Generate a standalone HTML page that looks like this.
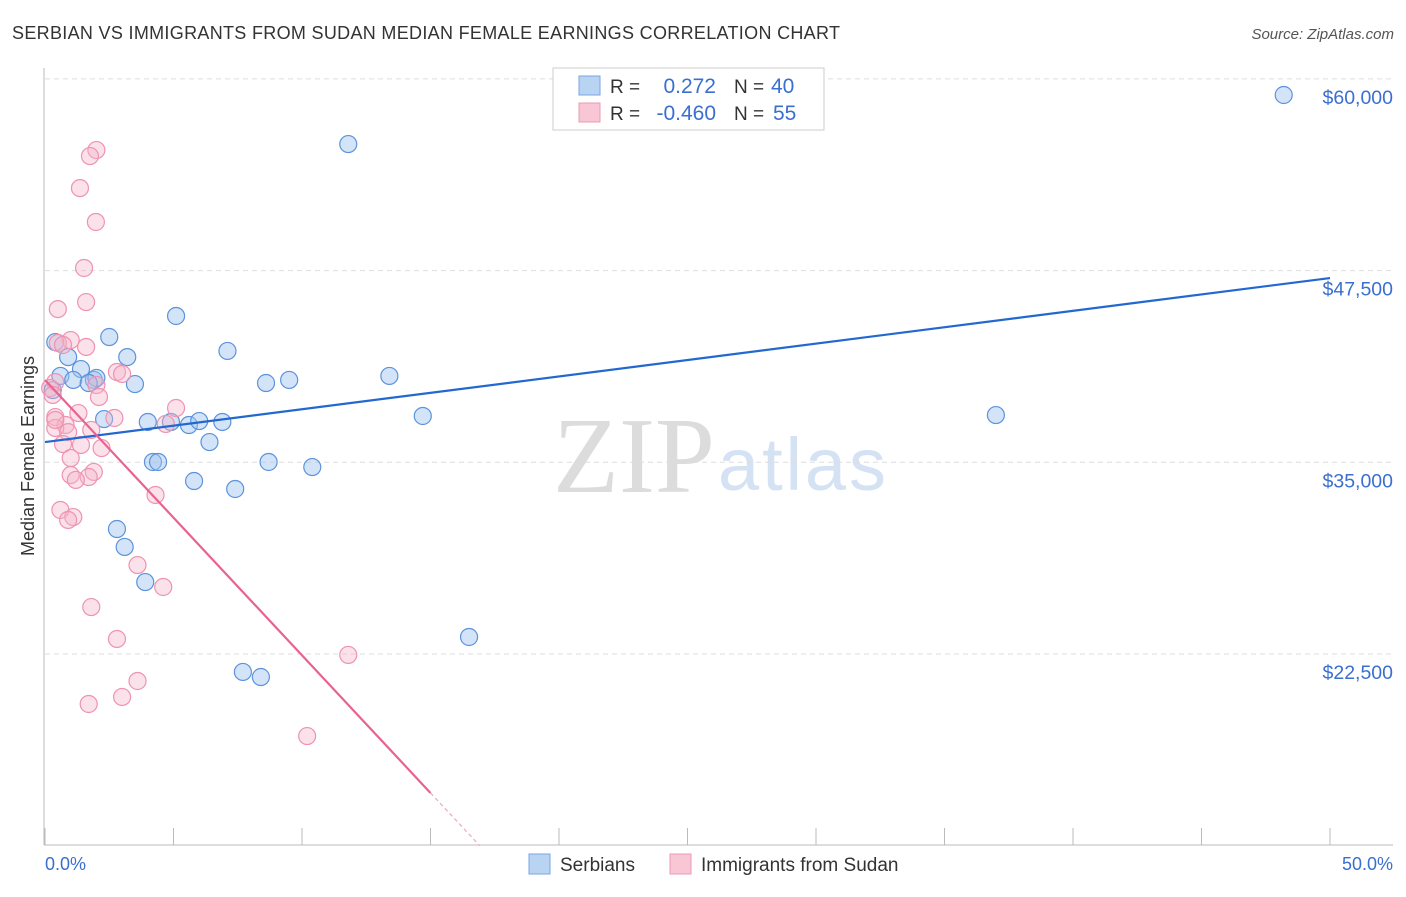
<!DOCTYPE html>
<html><head><meta charset="utf-8"><style>
body{margin:0;background:#fff;font-family:"Liberation Sans",sans-serif}
</style></head><body>
<svg id="chart" width="1406" height="892" xmlns="http://www.w3.org/2000/svg">
<text x="12" y="39" font-size="18" fill="#333" textLength="828">SERBIAN VS IMMIGRANTS FROM SUDAN MEDIAN FEMALE EARNINGS CORRELATION CHART</text>
<text x="1394" y="39" font-size="15" fill="#555" font-style="italic" text-anchor="end">Source: ZipAtlas.com</text>
<text x="553" y="492" font-size="108" fill="#dcdcdc" font-family="Liberation Serif,serif" textLength="162">ZIP</text>
<text x="718" y="490" font-size="74" fill="#d4e2f4" textLength="168">atlas</text>
<g id="grid"></g><g id="axes"></g><g id="pts"></g><g id="lines"></g>
<text transform="translate(34,456) rotate(-90)" font-size="18" fill="#333" text-anchor="middle">Median Female Earnings</text>
<text x="45" y="870" font-size="18" fill="#3a6fd0">0.0%</text>
<text x="1393" y="870" font-size="18" fill="#3a6fd0" text-anchor="end">50.0%</text>
<g>
<rect x="553" y="68" width="271" height="62" fill="#fff" stroke="#ccc"/>
<rect x="579" y="76" width="21" height="19" fill="#b9d3f3" stroke="#7aa6e0"/>
<rect x="579" y="103" width="21" height="19" fill="#f9c6d5" stroke="#eb9ab4"/>
<text x="610" y="93" font-size="19" fill="#333">R =</text><text x="716" y="93" font-size="21" fill="#3a6fd0" text-anchor="end">0.272</text>
<text x="734" y="93" font-size="19" fill="#333">N =</text><text x="771" y="93" font-size="21" fill="#3a6fd0">40</text>
<text x="610" y="120" font-size="19" fill="#333">R =</text><text x="716" y="120" font-size="21" fill="#3a6fd0" text-anchor="end">-0.460</text>
<text x="734" y="120" font-size="19" fill="#333">N =</text><text x="773" y="120" font-size="21" fill="#3a6fd0">55</text>
</g>
<g>
<rect x="529" y="854" width="21" height="20" fill="#b9d3f3" stroke="#7aa6e0"/>
<text x="560" y="871" font-size="19" fill="#333">Serbians</text>
<rect x="670" y="854" width="21" height="20" fill="#f9c6d5" stroke="#eb9ab4"/>
<text x="701" y="871" font-size="19" fill="#333">Immigrants from Sudan</text>
</g>
</svg>
<script>
const yTicks=[22500,35000,47500,60000];
const yTickLabels=["$22,500","$35,000","$47,500","$60,000"];
const xTicks=[0,5,10,15,20,25,30,35,40,45,50];
const serbX=[48.2,11.8,5.1,2.5,7.1,0.4,0.9,3.2,0.3,0.6,1.4,1.9,2.0,1.1,3.5,8.6,9.5,13.4,2.3,4.0,4.9,5.6,6.0,6.9,6.4,14.7,37.0,4.2,4.4,8.7,10.4,5.8,7.4,2.8,3.1,3.9,16.5,7.7,8.4,1.7];
const serbY=[58950,55750,44540,43170,42260,42840,41860,41860,39710,40630,41080,40370,40500,40370,40100,40170,40370,40630,37820,37630,37630,37430,37690,37630,36320,38020,38080,35020,35020,35020,34690,33780,33260,30650,29480,27190,23610,21330,21000,40170];
const sudX=[2.0,1.75,1.36,1.98,1.52,1.6,0.5,1.0,0.5,0.7,1.6,2.8,3.0,2.0,0.4,0.2,0.3,2.1,1.3,0.4,2.7,0.8,0.4,0.9,1.8,5.1,4.7,0.7,1.4,2.2,1.0,1.9,1.0,1.7,1.2,4.3,0.6,1.1,0.9,3.6,4.6,1.8,2.8,3.6,3.0,1.7,11.8,10.2,0.4];
const sudY=[55360,54970,52880,50670,47670,45450,44990,42970,42780,42650,42520,40890,40760,40040,40230,39840,39390,39260,38210,37950,37890,37430,37240,36970,37110,38540,37500,36190,36130,35930,35280,34370,34170,34040,33850,32870,31890,31430,31240,28300,26870,25560,23480,20740,19700,19240,22440,17150,37760];
const serbTrend=[36320,47015];
const sudTrend=[40365,-1795];
const NS="http://www.w3.org/2000/svg";
const xs=v=>45+v*25.7, ys=v=>654-(v-22500)/12500*191.7;
function mk(t,a,p){const e=document.createElementNS(NS,t);for(const k in a)e.setAttribute(k,a[k]);document.getElementById(p).appendChild(e);return e;}
yTicks.forEach((t,i)=>{
 const g=mk('line',{x1:45,x2:1393,y1:ys(t),y2:ys(t),stroke:'#ddd','stroke-dasharray':'5,4'},'grid');
 
 
 const l=mk('text',{x:1393,y:ys(t)+25,'font-size':19.5,fill:'#3a6fd0','text-anchor':'end'},'grid');l.textContent=yTickLabels[i];
 
 
});
mk('line',{x1:44,x2:44,y1:68,y2:845,stroke:'#bbb'},'axes');
mk('line',{x1:44,x2:1393,y1:845,y2:845,stroke:'#bbb'},'axes');
xTicks.forEach(t=>{const e=mk('line',{x1:xs(t),x2:xs(t),y1:828,y2:845,stroke:'#bbb'},'axes');
 
 });
serbX.forEach((x,i)=>{const c=mk('circle',{cx:xs(x),cy:ys(serbY[i]),r:8.5,fill:'rgba(160,196,240,0.45)',stroke:'#5b93dc','stroke-width':1.2},'pts');
 
 });
sudX.forEach((x,i)=>{const c=mk('circle',{cx:xs(x),cy:ys(sudY[i]),r:8.5,fill:'rgba(246,180,200,0.4)',stroke:'#ee93b1','stroke-width':1.2},'pts');
 
 });
const b=mk('line',{x1:xs(0),y1:ys(serbTrend[0]),x2:xs(50),y2:ys(serbTrend[1]),stroke:'#2268d0','stroke-width':2.2},'lines');


const sx=15, ex=(10000-sudTrend[0])/sudTrend[1];
const p=mk('line',{x1:xs(0),y1:ys(sudTrend[0]),x2:xs(sx),y2:ys(sudTrend[0]+sudTrend[1]*sx),stroke:'#e8638f','stroke-width':2.2},'lines');


const d=mk('line',{x1:xs(sx),y1:ys(sudTrend[0]+sudTrend[1]*sx),x2:xs(ex),y2:ys(10000),stroke:'#f0a6bf','stroke-width':1.2,'stroke-dasharray':'4,3'},'lines');


</script>
</body></html>
